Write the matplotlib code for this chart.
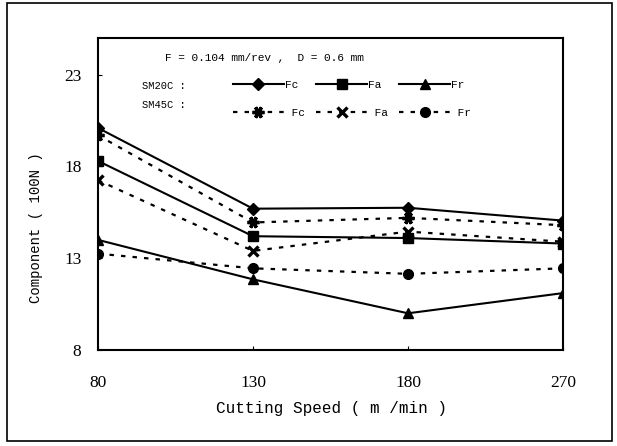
import matplotlib.pyplot as plt
from matplotlib.patches import Rectangle

speeds = ['80', '130', '180', '270']

sm20c_fc = [20.1, 15.7, 15.75, 15.05]
sm20c_fa = [18.3, 14.2, 14.1, 13.8]
sm20c_fr = [14.0, 11.85, 10.0, 11.1]

sm45c_fc = [19.7, 14.95, 15.2, 14.8]
sm45c_fa = [17.25, 13.4, 14.45, 13.9]
sm45c_fr = [13.25, 12.45, 12.15, 12.45]

mono = 'Liberation Mono'
serif = 'Liberation Serif'

fig = plt.figure(figsize=(6.17, 4.46), dpi=100)
ax = fig.add_axes([98 / 617, 96 / 446, 465 / 617, 312 / 446])

x = range(len(speeds))
solid = dict(color='black', linewidth=1.5, markersize=6.5)
dash = dict(color='black', linewidth=1.6, linestyle=(0, (2, 3.2)))

h1, = ax.plot(x, sm20c_fc, marker='D', label='Fc', **solid)
h2, = ax.plot(x, sm20c_fa, marker='s', label='Fa', **solid)
h3, = ax.plot(x, sm20c_fr, marker='^', label='Fr', **solid)
h4, = ax.plot(x, sm45c_fc, marker=(6, 2, 90), markersize=8.5, markeredgewidth=2.4,
              label=' Fc', **dash)
h5, = ax.plot(x, sm45c_fa, marker='x', markersize=7, markeredgewidth=2.4, label=' Fa', **dash)
h6, = ax.plot(x, sm45c_fr, marker='o', markersize=7, label=' Fr', **dash)

ax.set_xlim(0, 3)
ax.set_ylim(8, 25)
ax.set_xticks(list(x))
ax.set_xticklabels(speeds, fontfamily=serif, fontsize=12.5)
ax.set_yticks([8, 13, 18, 23])
ax.set_yticklabels(['8', '13', '18', '23'], fontfamily=serif, fontsize=12.5)
ax.tick_params(axis='x', direction='in', length=3, pad=18)
ax.tick_params(axis='y', direction='in', length=3, pad=12)
for s in ax.spines.values():
    s.set_linewidth(1.5)

ax.text(0.144, 0.936, 'F = 0.104 mm/rev ,  D = 0.6 mm', transform=ax.transAxes,
        fontfamily=mono, fontsize=8, va='center', ha='left')
ax.text(0.095, 0.846, 'SM20C :', transform=ax.transAxes,
        fontfamily=mono, fontsize=7.5, va='center', ha='left')
ax.text(0.095, 0.785, 'SM45C :', transform=ax.transAxes,
        fontfamily=mono, fontsize=7.5, va='center', ha='left')

leg = ax.legend(handles=[h1, h4, h2, h5, h3, h6], ncol=3,
                loc='upper left', bbox_to_anchor=(0.29, 0.865),
                frameon=False, prop={'family': mono, 'size': 8},
                handlelength=4.6, handletextpad=0.1, columnspacing=1.0,
                labelspacing=1.6, borderpad=0, borderaxespad=0)

fig.text(331 / 617, 1 - 408 / 446, 'Cutting Speed ( m /min )', fontfamily=mono,
         fontsize=11.5, ha='center', va='center')
fig.text(36 / 617, 1 - 228 / 446, 'Component ( 100N )', fontfamily=mono,
         fontsize=10, ha='center', va='center', rotation=90)

fig.patches.append(Rectangle((7 / 617, 1 - 441 / 446), 605 / 617, 438 / 446,
                             transform=fig.transFigure, fill=False,
                             edgecolor='black', linewidth=1.2))

fig.savefig('out.png', dpi=100)
